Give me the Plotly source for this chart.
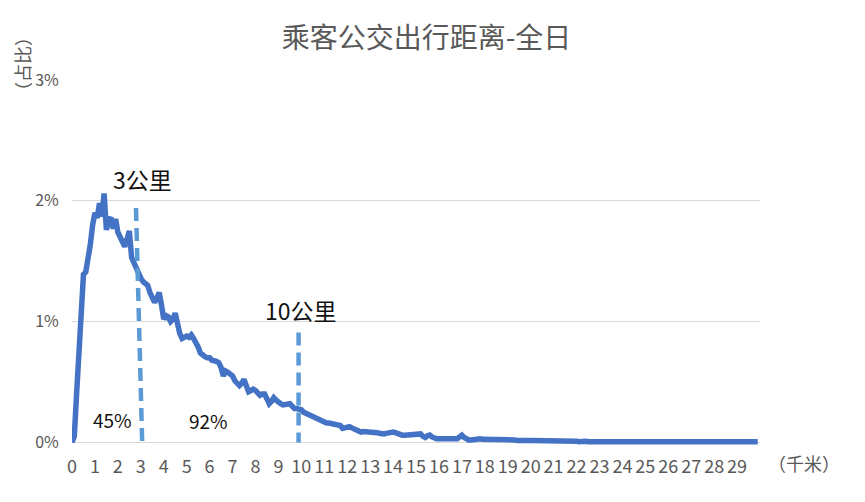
import plotly.graph_objects as go

# distance categories (km), 0.1 km bins
distance_km = [round(i / 10, 1) for i in range(300)]

# share of trips (%) per 0.1 km bin
share_pct = [
    0.00, 0.05, 0.40, 0.75, 1.10, 1.39, 1.41, 1.50, 1.64, 1.80,
    1.90, 1.86, 1.98, 1.87, 2.06, 1.76, 1.84, 1.86, 1.77, 1.85,
    1.74, 1.70, 1.66, 1.62, 1.68, 1.75, 1.53, 1.48, 1.46, 1.40,
    1.36, 1.33, 1.31, 1.30, 1.24, 1.20, 1.16, 1.19, 1.24, 1.14,
    1.02, 1.05, 1.04, 1.00, 1.02, 1.07, 0.96, 0.90, 0.86, 0.87,
    0.88, 0.87, 0.89, 0.86, 0.83, 0.79, 0.74, 0.72, 0.71, 0.70,
    0.70, 0.68, 0.68, 0.67, 0.66, 0.62, 0.55, 0.59, 0.58, 0.57,
    0.55, 0.51, 0.49, 0.47, 0.49, 0.52, 0.47, 0.42, 0.43, 0.44,
    0.43, 0.41, 0.39, 0.40, 0.40, 0.36, 0.32, 0.34, 0.37, 0.35,
    0.33, 0.32, 0.31, 0.31, 0.32, 0.32, 0.30, 0.28, 0.28, 0.28,
    0.27, 0.25, 0.24, 0.23, 0.22, 0.22, 0.21, 0.20, 0.18, 0.17,
    0.17, 0.16, 0.16, 0.155, 0.15, 0.15, 0.145, 0.14, 0.115, 0.12,
    0.13, 0.13, 0.12, 0.11, 0.10, 0.09, 0.085, 0.09, 0.09, 0.09,
    0.09, 0.085, 0.085, 0.08, 0.075, 0.07, 0.07, 0.075, 0.08, 0.08,
    0.085, 0.08, 0.07, 0.06, 0.06, 0.06, 0.06, 0.06, 0.06, 0.065,
    0.07, 0.065, 0.07, 0.05, 0.04, 0.055, 0.06, 0.045, 0.035, 0.03,
    0.03, 0.035, 0.03, 0.03, 0.03, 0.03, 0.035, 0.03, 0.03, 0.045,
    0.06, 0.04, 0.025, 0.02, 0.02, 0.025, 0.025, 0.03, 0.03, 0.025,
    0.025, 0.03, 0.025, 0.02, 0.025, 0.025, 0.02, 0.02, 0.025, 0.02,
    0.02, 0.025, 0.02, 0.02, 0.015, 0.02, 0.015, 0.015, 0.02, 0.015,
    0.015, 0.015, 0.02, 0.015, 0.015, 0.01, 0.015, 0.01, 0.01, 0.01,
    0.01, 0.015, 0.01, 0.01, 0.01, 0.01, 0.015, 0.01, 0.01, 0.01,
    0.01, 0.005, 0.01, 0.005, 0.01, 0.005, 0.005, 0.005, 0.005, 0.005,
    0.005, 0.005, 0.005, 0.005, 0.005, 0.005, 0.005, 0.005, 0.005, 0.005,
    0.005, 0.005, 0.005, 0.005, 0.005, 0.005, 0.005, 0.005, 0.005, 0.005,
    0.005, 0.005, 0.005, 0.005, 0.005, 0.005, 0.005, 0.005, 0.005, 0.005,
    0.005, 0.005, 0.005, 0.005, 0.005, 0.005, 0.005, 0.005, 0.005, 0.005,
    0.005, 0.005, 0.005, 0.01, 0.005, 0.005, 0.005, 0.005, 0.01, 0.005,
    0.005, 0.01, 0.005, 0.005, 0.01, 0.005, 0.005, 0.01, 0.005, 0.005,
    0.01, 0.005, 0.005, 0.01, 0.005, 0.005, 0.01, 0.005, 0.005, 0.005,
]

x_tick_vals = list(range(30))
x_tick_text = [str(v) for v in x_tick_vals]
y_tick_vals = [0, 1, 2, 3]
y_tick_text = ["0%", "1%", "2%", "3%"]

title_text = "乘客公交出行距离-全日"
cjk = "Noto Sans CJK SC"
grey = "#595959"

M_L, M_R, M_T, M_B = 72, 105, 80, 56.4
PW = 865 - M_L - M_R
PH = 502 - M_T - M_B


def px_x(px):
    return (px - M_L) / PW


def px_y(py):
    return (502 - M_B - py) / PH


fig = go.Figure()
fig.add_trace(go.Scatter(
    x=distance_km, y=share_pct, mode="lines",
    line=dict(color="#4472C4", width=5.5),
    hoverinfo="skip", showlegend=False,
))

dash_style = dict(color="#5B9BD5", width=4.5, dash="13px,7px")
fig.add_shape(type="line", xref="x", yref="y", x0=2.79, y0=1.94, x1=3.06, y1=0.0,
              line=dash_style, layer="above")
fig.add_shape(type="line", xref="x", yref="y", x0=9.88, y0=0.91, x1=9.88, y1=0.0,
              line=dash_style, layer="above")

annos = [
    ("3公里", 3.06, 2.18, 23),
    ("10公里", 10.0, 1.10, 23),
    ("45%", 1.75, 0.19, 19),
    ("92%", 5.94, 0.18, 19),
]
for txt, ax, ay, fs in annos:
    fig.add_annotation(text=txt, x=ax, y=ay, xref="x", yref="y", showarrow=False,
                       xanchor="center", yanchor="middle",
                       font=dict(family=cjk, size=fs, color="#111111"))

fig.add_annotation(text="（千米）", xref="paper", yref="paper",
                   x=px_x(804), y=px_y(463), xanchor="center", yanchor="middle",
                   showarrow=False, font=dict(family=cjk, size=18, color=grey))
fig.add_annotation(text="（占比）", xref="paper", yref="paper",
                   x=px_x(22), y=px_y(64), xanchor="center", yanchor="middle",
                   showarrow=False, textangle=-90,
                   font=dict(family=cjk, size=18, color=grey))

fig.update_layout(
    width=865, height=502,
    margin=dict(l=M_L, r=M_R, t=M_T, b=M_B),
    paper_bgcolor="white", plot_bgcolor="white",
    title=dict(text=title_text, x=426.5 / 865, xanchor="center",
               y=1 - 38.5 / 502, yanchor="middle",
               font=dict(family=cjk, size=28, color=grey)),
    xaxis=dict(range=[0, 30], tickmode="array", tickvals=x_tick_vals, ticktext=x_tick_text,
               tickangle=0, showgrid=False, zeroline=False, showline=False,
               ticks="", ticklabelstandoff=8,
               tickfont=dict(family=cjk, size=18, color=grey)),
    yaxis=dict(range=[-0.03, 3], tickmode="array", tickvals=y_tick_vals, ticktext=y_tick_text,
               showgrid=True, gridcolor="#D9D9D9", gridwidth=1.3, zeroline=False, showline=False,
               ticks="outside", ticklen=9, tickcolor="rgba(0,0,0,0)",
               tickfont=dict(family=cjk, size=16, color=grey)),
)

fig.write_html("out.html", config={"displayModeBar": False},
               post_script="document.body.style.margin='0';document.body.style.padding='0';")
